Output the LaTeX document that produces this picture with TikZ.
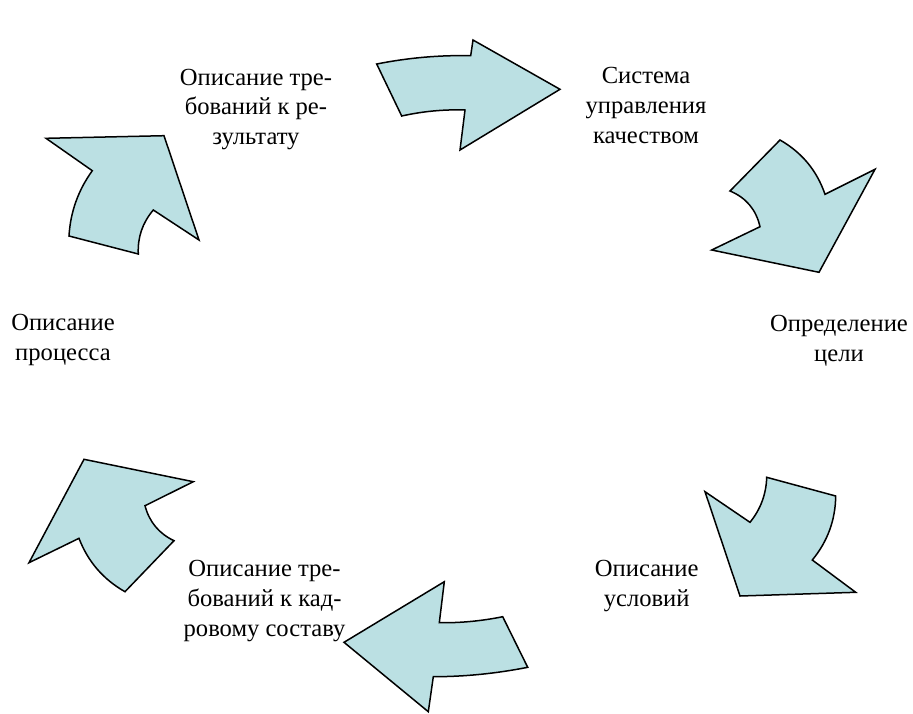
\documentclass[tikz,border=0pt]{standalone}
\usepackage{fontspec}
\setmainfont{Liberation Serif}
\definecolor{arrowfill}{HTML}{BBE0E3}
\tikzset{
  curvedarrow/.style={draw=black, fill=arrowfill, line width=1.5pt, line join=miter},
  label/.style={anchor=base, inner sep=0pt, font=\fontsize{24.6}{29.8}\selectfont}
}
\newcommand{\lbl}[1]{\begin{tabular}[t]{@{}c@{}}#1\end{tabular}}
\begin{document}
\begin{tikzpicture}[x=1pt,y=-1pt]
\useasboundingbox[fill=white] (0,0) rectangle (913,713);
% arrows
\path[curvedarrow] (376.7,64) .. controls (408.0,57.8) and (439.4,55.0) .. (470.7,55.7) -- (473,40) -- (560,89.3) -- (460,150) -- (465,110) .. controls (443.9,109.3) and (422.8,111.3) .. (401.7,116) -- cycle;
\path[curvedarrow] (780,140) .. controls (801.9,152.5) and (816.9,170.6) .. (825,194.3) -- (875,169.3) -- (819,272.3) -- (711.7,250) -- (760,226.7) .. controls (756.1,209.6) and (746.1,197.7) .. (730,191) -- cycle;
\path[curvedarrow] (705,491.7) -- (750,522.3) .. controls (760.6,509.2) and (766.2,494.2) .. (766.7,477.3) -- (835.7,496) .. controls (835.4,520.0) and (827.6,541.4) .. (812.3,560) -- (855.7,592.3) -- (740,596) -- cycle;
\path[curvedarrow] (344,642.3) -- (444.3,581.7) -- (439.3,622.7) .. controls (460.4,623.0) and (481.6,621.0) .. (502.7,616.7) -- (527.7,667.3) .. controls (496.2,673.5) and (464.8,676.7) .. (433.3,676.7) -- (428.3,711.7) -- cycle;
\path[curvedarrow] (84,459.3) -- (193.3,481.7) -- (145,505.7) .. controls (149.3,521.9) and (158.9,533.5) .. (174,540.7) -- (125,591.7) .. controls (103.3,579.4) and (87.9,561.6) .. (79,538.3) -- (29,562.7) -- cycle;
\path[curvedarrow] (46,138.3) -- (164,135.7) -- (199,240) -- (153.3,210) .. controls (142.5,222.7) and (137.5,237.3) .. (138.3,254) -- (69,236) .. controls (70.4,212.0) and (78.2,190.2) .. (92.3,170.7) -- cycle;
% labels
\node[label] (t1) at (256,85) {\lbl{Описание тре-\\бований к ре-\\зультату}};
\node[label] (t2) at (646,83.5) {\lbl{Система\\управления\\качеством}};
\node[label] (t3) at (839,331.5) {\lbl{Определение\\цели}};
\node[label] (t4) at (63,330.5) {\lbl{Описание\\процесса}};
\node[label] (t5) at (646.7,576.7) {\lbl{Описание\\условий}};
\node[label] (t6) at (264.5,576.7) {\lbl{Описание тре-\\бований к кад-\\ровому составу}};
\end{tikzpicture}
\end{document}
